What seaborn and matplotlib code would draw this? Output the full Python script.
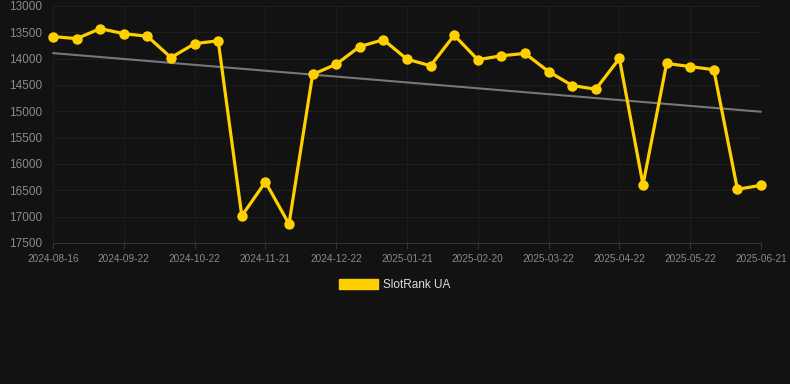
import matplotlib

matplotlib.use("Agg")
import matplotlib.pyplot as plt
from matplotlib.patches import Patch
import numpy as np
import pandas as pd
import seaborn as sns

# rank values (one point roughly every 10 days)
ranks = [13580, 13620, 13430, 13525, 13575, 13980, 13715, 13660,
         16985, 16340, 17140, 14300, 14105, 13770, 13640, 14010,
         14135, 13555, 14020, 13945, 13900, 14245, 14510, 14580,
         13995, 16395, 14090, 14150, 14210, 16480, 16405]
tick_labels = ["2024-08-16", "2024-09-22", "2024-10-22", "2024-11-21",
               "2024-12-22", "2025-01-21", "2025-02-20", "2025-03-22",
               "2025-04-22", "2025-05-22", "2025-06-21"]
series_name = "SlotRank UA"

BG = "#121212"
YELLOW = "#FFD000"

df = pd.DataFrame({"idx": np.arange(len(ranks)), "rank": ranks})

sns.set_theme(style="dark", rc={
    "figure.facecolor": BG,
    "axes.facecolor": BG,
    "axes.edgecolor": BG,
    "grid.color": "#222222",
    "text.color": "#dddddd",
})
plt.rcParams["font.family"] = ["Liberation Sans", "DejaVu Sans"]

fig = plt.figure(figsize=(7.9, 3.84), dpi=100)
ax = fig.add_axes([53 / 790, 141 / 384, 708 / 790, 237 / 384])

sns.regplot(data=df, x="idx", y="rank", scatter=False, ci=None, ax=ax,
            color="#777777", line_kws={"linewidth": 1.5, "zorder": 2})
sns.lineplot(data=df, x="idx", y="rank", ax=ax, color=YELLOW, linewidth=2.3,
             marker="o", markersize=7.5, markeredgewidth=0, zorder=3)
for line in ax.lines:
    line.set_clip_on(False)

ax.set_xlim(0, len(ranks) - 1)
ax.set_ylim(17500, 13000)
ax.set_yticks(np.arange(13000, 17501, 500))
ax.set_xticks(np.arange(0, len(ranks), 3))
ax.set_xticklabels(tick_labels)
ax.set_xlabel("")
ax.set_ylabel("")
ax.grid(True, color="#1d1d1d", linewidth=0.8)
ax.tick_params(axis="y", colors="#8a8a8a", labelsize=8.5, length=0, pad=8)
ax.tick_params(axis="x", colors="#333333", labelcolor="#8a8a8a", labelsize=7.2,
               length=4, width=0.8, pad=4, bottom=True)
ax.spines["bottom"].set_color("#333333")
ax.spines["bottom"].set_linewidth(0.8)
for s in ["top", "right", "left"]:
    ax.spines[s].set_visible(False)

handle = Patch(facecolor=YELLOW, edgecolor=YELLOW, label=series_name)
fig.legend(handles=[handle], loc="center", bbox_to_anchor=(0.5, 1 - 285 / 384),
           frameon=False, fontsize=8.5, handlelength=3.3, handleheight=1.0,
           handletextpad=0.4, labelcolor="#dddddd")

fig.savefig("out.png", dpi=100, facecolor=BG)
